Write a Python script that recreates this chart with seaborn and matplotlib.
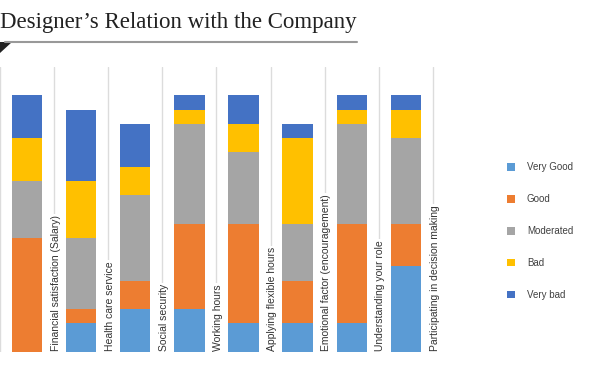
import matplotlib
matplotlib.use("Agg")
import matplotlib.pyplot as plt
import seaborn as sns
import pandas as pd
import numpy as np
from matplotlib.patches import Patch, Polygon
from matplotlib.lines import Line2D

categories = [
    "Financial satisfaction (Salary)",
    "Health care service",
    "Social security",
    "Working hours",
    "Applying flexible hours",
    "Emotional factor (encouragement)",
    "Understanding your role",
    "Participating in decision making",
]
very_good = [0, 2, 3, 3, 2, 2, 2, 6]
good = [8, 1, 2, 6, 7, 3, 7, 3]
moderated = [4, 5, 6, 7, 5, 4, 7, 6]
bad = [3, 4, 2, 1, 2, 6, 1, 2]
very_bad = [3, 5, 3, 1, 2, 1, 1, 1]

series_names = ["Very Good", "Good", "Moderated", "Bad", "Very bad"]
series_values = [very_good, good, moderated, bad, very_bad]
colors = ["#5B9BD5", "#ED7D31", "#A5A5A5", "#FFC000", "#4472C4"]
title = "Designer\u2019s Relation with the Company"

sns.set_theme(style="white")
plt.rcParams["font.family"] = ["Liberation Sans", "DejaVu Sans"]

W, H = 600, 370
fig = plt.figure(figsize=(W / 100, H / 100), dpi=100)

unit = 54.34
ax_left_px, ax_right_px = 0, 445
ax_bottom_px, ax_top_px = 351.7, 67
ax = fig.add_axes([ax_left_px / W, (H - ax_bottom_px) / H,
                   (ax_right_px - ax_left_px) / W, (ax_bottom_px - ax_top_px) / H])

df = pd.DataFrame({"category": categories})
cum = np.zeros(len(categories))
cums = []
for vals in series_values:
    cum = cum + np.array(vals)
    cums.append(cum.copy())

# draw cumulative totals from top series down so each overlaps the previous
for name, col, c in reversed(list(zip(series_names, colors, cums))):
    d = df.copy()
    d["value"] = c
    sns.barplot(data=d, x="category", y="value", order=categories, color=col,
                saturation=1, width=0.56, ax=ax, zorder=3, linewidth=0)

n = len(categories)
x0 = -25.3 / unit
ax.set_xlim(x0, x0 + (ax_right_px - ax_left_px) / unit)
ax.set_ylim(0, 20)
ax.set_xticks([])
ax.set_xticks(np.arange(n + 1) - 0.5, minor=True)
ax.tick_params(which="both", length=0, labelbottom=False, labelleft=False)
ax.set_yticks([])
ax.grid(False)
ax.xaxis.grid(True, which="minor", color="#DCDCDC", linewidth=1.0, zorder=0)
ax.set_axisbelow(True)
for s in ax.spines.values():
    s.set_visible(False)
ax.set_xlabel("")
ax.set_ylabel("")

for i, lab in enumerate(categories):
    ax.text(i + 0.53, 0.02, lab, rotation=90, ha="center", va="bottom",
            fontsize=7.5, color="#333333", zorder=4,
            bbox=dict(facecolor="white", edgecolor="none", pad=1.0))

handles = [Patch(facecolor=c, edgecolor="none") for c in colors]
fig.legend(handles, series_names, loc="center left",
           bbox_to_anchor=(507 / W, (H - 231) / H), frameon=False,
           fontsize=7, handlelength=0.85, handleheight=0.85,
           handletextpad=1.2, labelspacing=2.25, borderpad=0, borderaxespad=0,
           labelcolor="#404040")

fig.text(0.0, (H - 28) / H, title, fontsize=16.5, va="baseline", ha="left",
         family=["Liberation Serif", "DejaVu Serif"], color="#222222")
fig.add_artist(Line2D([5 / W, 357 / W], [(H - 41.7) / H, (H - 41.7) / H],
                      color="#999999", linewidth=1.5))
fig.add_artist(Polygon([(0, (H - 42) / H), (12 / W, (H - 42) / H), (0, (H - 53) / H)],
                       closed=True, facecolor="#222222", edgecolor="none",
                       transform=fig.transFigure))

fig.savefig("out.png", dpi=100)
